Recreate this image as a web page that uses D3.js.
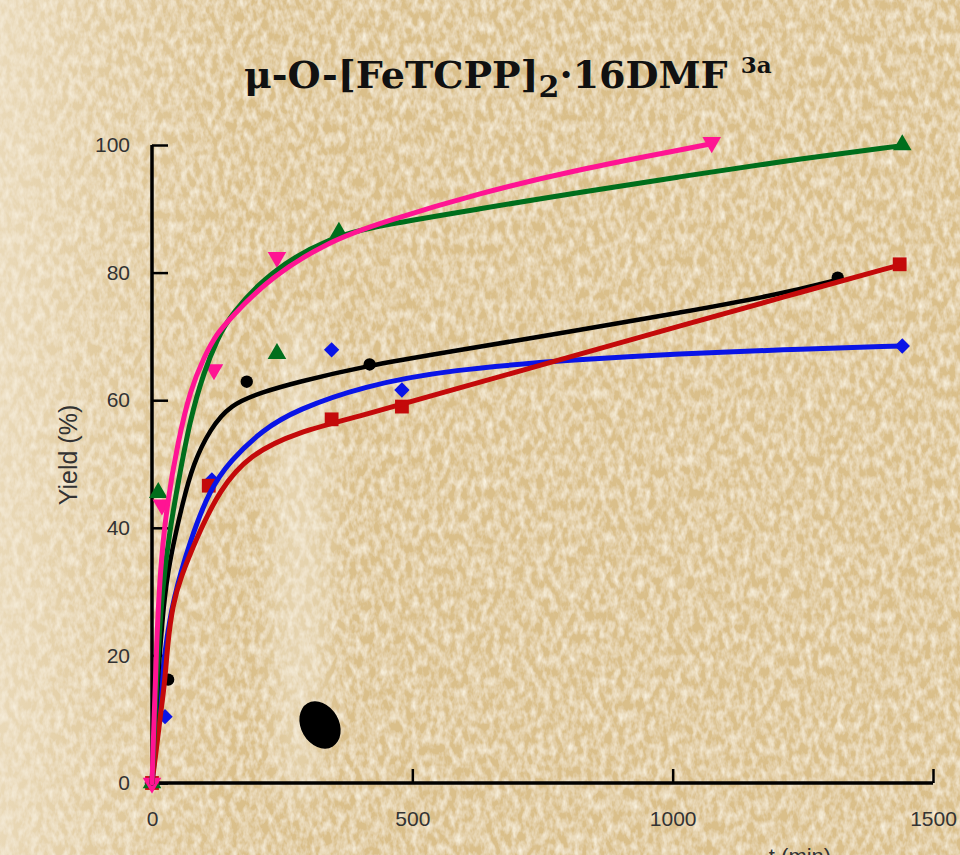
<!DOCTYPE html>
<html>
<head>
<meta charset="utf-8">
<script src="https://cdn.jsdelivr.net/npm/d3@7"></script>
<style>
  body { margin: 0; background: #e0c595; }
  svg { display: block; }
</style>
</head>
<body>
<div id="chart-container"></div>
<script>
const w = 960;
const h = 855;
const margin = { top: 145, right: 27, bottom: 72, left: 152 };

// tick labels
const xTicks = [0, 500, 1000, 1500];
const yTicks = [0, 20, 40, 60, 80, 100];

// measured points (t in min, yield %)
const pinkPts  = [[0, 0], [19, 43.6], [119, 64.8], [240, 82.4], [1075, 100.4]];
const greenPts = [[0, 0], [12, 45.5], [240, 67.3], [359, 86.3], [1441, 100]];
const blackPts = [[0, 0], [31, 16.2], [182, 62.9], [418, 65.6], [1317, 79.2]];
const bluePts  = [[0, 0], [25, 10.4], [115, 47.5], [345, 67.9], [480, 61.6], [1441, 68.5]];
const redPts   = [[0, 0], [109, 46.6], [345, 57], [480, 59], [1436, 81.3]];

// fitted curves
const pinkFit  = [[0, 0], [4, 10], [8, 20], [15, 33], [29, 44], [50, 53.5], [73, 61.5], [100, 66.8], [125, 70.5],
                  [150, 72.8], [226, 79.2], [342, 85], [438, 87.8], [630, 92.5], [821, 96.2], [1013, 99.2], [1075, 100.2]];
const greenFit = [[0, 0], [5, 9], [10, 18], [20, 31], [35, 40], [50, 47], [73, 57], [100, 64.5], [125, 69.5],
                  [150, 73.3], [226, 80.2], [342, 85.6], [438, 87.4], [630, 90], [821, 92.6], [1013, 95], [1205, 97.4], [1441, 99.9]];
const blackFit = [[0, 0], [5, 8], [11, 16], [22, 28], [34, 35], [59, 44], [79, 50], [111, 55.4], [150, 59.3],
                  [213, 61.3], [278, 62.8], [405, 65.3], [572, 67.6], [821, 71], [1013, 73.7], [1205, 76.6], [1317, 78.9]];
const blueFit  = [[0, 0], [8, 6], [15, 13], [25, 21], [40, 28.7], [73, 38], [111, 46], [150, 50.5], [213, 55.4],
                  [278, 58.5], [405, 62.2], [572, 64.8], [821, 66.4], [1013, 67.3], [1205, 67.9], [1441, 68.5]];
const redFit   = [[0, 0], [8, 5], [15, 10], [25, 16], [30, 22], [40, 28], [54, 32], [86, 38.5], [130, 46], [188, 51.5],
                  [278, 55], [405, 57.6], [572, 61.5], [821, 67.2], [1013, 71.6], [1205, 76], [1441, 81.3]];

const series = [
  { fit: blueFit,  pts: bluePts,  color: "#0a14e6", shape: d3.symbolDiamond2, size: 150, width: 5 },
  { fit: blackFit, pts: blackPts, color: "#000000", shape: d3.symbolCircle,   size: 120, width: 4.5 },
  { fit: redFit,   pts: redPts,   color: "#c40a0a", shape: d3.symbolSquare,   size: 190, width: 5 },
  { fit: greenFit, pts: greenPts, color: "#006e1c", shape: d3.symbolTriangle, size: 150, width: 5 },
  { fit: pinkFit,  pts: pinkPts,  color: "#ff1493", shape: d3.symbolTriangle, size: 150, width: 5, flip: true }
];

const svg = d3.select("#chart-container")
  .append("svg")
  .attr("width", w)
  .attr("height", h);

// paper background
const defs = svg.append("defs");
const f = defs.append("filter").attr("id", "paper").attr("x", 0).attr("y", 0).attr("width", 1).attr("height", 1);
f.append("feTurbulence").attr("type", "fractalNoise").attr("baseFrequency", "0.16 0.09").attr("numOctaves", 3).attr("seed", 7);
f.append("feColorMatrix").attr("type", "matrix")
  .attr("values", "0 0 0 0 1  0 0 0 0 0.96  0 0 0 0 0.84  1.4 0 0 0 -0.48");
f.append("feComposite").attr("in2", "SourceGraphic").attr("operator", "over");

defs.append("filter").attr("id", "soft").attr("x", -1).attr("y", -1).attr("width", 3).attr("height", 3)
  .append("feGaussianBlur").attr("stdDeviation", 14);

const lg = defs.append("linearGradient").attr("id", "fade").attr("x1", 0).attr("x2", 1).attr("y1", 0).attr("y2", 0);
lg.append("stop").attr("offset", "0").attr("stop-color", "#f4ead6").attr("stop-opacity", 0.6);
lg.append("stop").attr("offset", "0.1").attr("stop-color", "#f4ead6").attr("stop-opacity", 0.3);
lg.append("stop").attr("offset", "0.25").attr("stop-color", "#f4ead6").attr("stop-opacity", 0);

svg.append("rect").attr("width", w).attr("height", h).attr("fill", "#dabf8a").attr("filter", "url(#paper)");
svg.append("rect").attr("width", w).attr("height", h).attr("fill", "url(#fade)");
// light streak in the paper
svg.append("ellipse").attr("cx", 300).attr("cy", 560).attr("rx", 28).attr("ry", 250)
  .attr("fill", "#f4eddc").attr("opacity", 0.45).attr("filter", "url(#soft)");
// ink blot
svg.append("ellipse").attr("cx", 320).attr("cy", 725).attr("rx", 19).attr("ry", 25)
  .attr("transform", "rotate(-30 320 725)").attr("fill", "#000");

const x = d3.scaleLinear().domain([0, 1500]).range([margin.left, w - margin.right]);
const y = d3.scaleLinear().domain([0, 100]).range([h - margin.bottom, margin.top]);

// title
const title = svg.append("text")
  .attr("x", 244).attr("y", 88)
  .style("font-family", "'DejaVu Serif', serif")
  .style("font-weight", "bold")
  .style("font-size", "38px")
  .style("fill", "#111");
title.append("tspan").text("μ-O-[FeTCPP]");
title.append("tspan").attr("dy", 9).style("font-size", "30px").text("2");
title.append("tspan").attr("dy", -9).text("·16DMF ");
title.append("tspan").attr("dy", -15).style("font-size", "23px").text("3a");

// axes
const xAxis = d3.axisBottom(x).tickValues(xTicks).tickFormat(d3.format("d")).tickSize(-14).tickPadding(28);
const yAxis = d3.axisLeft(y).tickValues(yTicks).tickFormat(d3.format("d")).tickSize(-16).tickPadding(22);

const gx = svg.append("g").attr("transform", `translate(0,${h - margin.bottom})`).call(xAxis);
const gy = svg.append("g").attr("transform", `translate(${margin.left},0)`).call(yAxis);
[gx, gy].forEach((g) => {
  g.select(".domain").attr("stroke", "#000").attr("stroke-width", 3.5);
  g.selectAll(".tick line").attr("stroke", "#000").attr("stroke-width", 2.5);
  g.selectAll(".tick text")
    .style("font-family", "'Liberation Sans', Arial, sans-serif")
    .style("font-size", "21px")
    .style("fill", "#333");
});
gx.select(".domain").attr("d", `M${x(0)},0H${x(1500)}`);
gy.select(".domain").attr("d", `M0,${y(0)}V${y(100)}`);

svg.append("text")
  .attr("transform", "translate(77,455) rotate(-90)")
  .attr("text-anchor", "middle")
  .style("font-family", "'Liberation Sans', Arial, sans-serif")
  .style("font-size", "25px")
  .style("fill", "#333")
  .text("Yield (%)");

svg.append("text")
  .attr("x", 800).attr("y", 864)
  .attr("text-anchor", "middle")
  .style("font-family", "'Liberation Sans', Arial, sans-serif")
  .style("font-size", "22px")
  .style("fill", "#333")
  .text("t (min)");

const line = d3.line()
  .x((d) => x(d[0]))
  .y((d) => y(d[1]))
  .curve(d3.curveBasis);

series.forEach((s) => {
  svg.append("g").selectAll("path.pt")
    .data(s.pts)
    .join("path")
    .attr("d", d3.symbol().type(s.shape).size(s.size))
    .attr("transform", (d) => `translate(${x(d[0])},${y(d[1])})${s.flip ? " rotate(180)" : ""}`)
    .attr("fill", s.color);
});

series.forEach((s) => {
  svg.append("path")
    .datum(s.fit)
    .attr("d", line)
    .attr("fill", "none")
    .attr("stroke", s.color)
    .attr("stroke-width", s.width)
    .attr("stroke-linecap", "round");
});
</script>
</body>
</html>
